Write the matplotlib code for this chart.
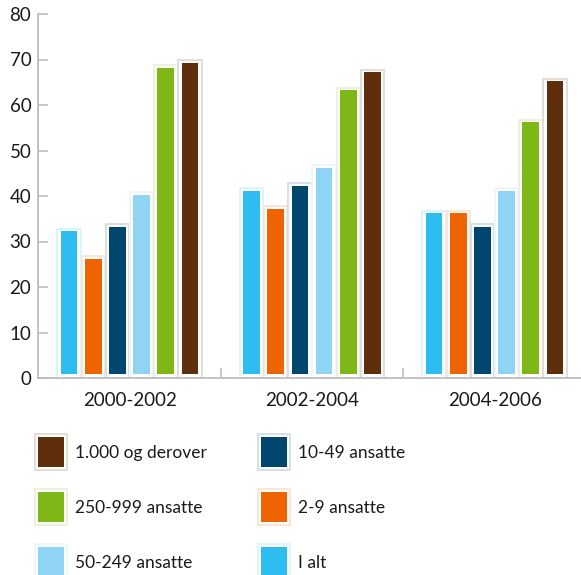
import numpy as np
import matplotlib.pyplot as plt
from matplotlib.patches import Rectangle
from matplotlib.colors import to_rgb

plt.rcParams['font.family'] = ['Lato', 'DejaVu Sans']

periods = ['2000-2002', '2002-2004', '2004-2006']
series = ['I alt', '2-9 ansatte', '10-49 ansatte', '50-249 ansatte',
          '250-999 ansatte', '1.000 og derover']
i_alt = [32, 41, 36]
ans_2_9 = [26, 37, 36]
ans_10_49 = [33, 42, 33]
ans_50_249 = [40, 46, 41]
ans_250_999 = [68, 63, 56]
ans_1000 = [69, 67, 65]
colors = ['#2ebdf0', '#ee6400', '#00466e', '#90d4f4', '#7fb716', '#5e2f0a']

values = [i_alt, ans_2_9, ans_10_49, ans_50_249, ans_250_999, ans_1000]


def tint(c, f=0.82):
    r, g, b = to_rgb(c)
    return (r + (1 - r) * f, g + (1 - g) * f, b + (1 - b) * f)


W, H = 581, 575
fig = plt.figure(figsize=(W / 100, H / 100), dpi=100)
ax = fig.add_axes([38.3 / W, 197 / H, 547.5 / W, 364 / H])

x = np.arange(len(periods))
pitch = 0.1326
outer_w = 0.128
inner_w = 0.0915
for i, (vals, c) in enumerate(zip(values, colors)):
    xs = x + (i - 2.5) * pitch
    # white frame with a pale outline, filled bar inside
    ax.bar(xs, np.array(vals) + 0.7, width=outer_w, bottom=0.1,
           color='white', edgecolor=tint(c), linewidth=1.3, zorder=2)
    ax.bar(xs, np.array(vals) - 0.7, width=inner_w, bottom=0.9,
           color=c, linewidth=0, zorder=3)

ax.set_xlim(-0.5, 2.5)
ax.set_ylim(0, 80)
ax.set_yticks(range(0, 81, 10))
ax.set_xticks(x)
ax.set_xticklabels(periods)
ax.set_xticks([0.5, 1.5], minor=True)
for s in ['top', 'right']:
    ax.spines[s].set_visible(False)
for s in ['left', 'bottom']:
    ax.spines[s].set_color('#bdbdbd')
    ax.spines[s].set_linewidth(1.3)
    ax.spines[s].set_zorder(4)
ax.tick_params(axis='y', direction='in', length=7, width=1.2, color='#bdbdbd',
               labelsize=13.5, labelcolor='#1a1a1a', pad=5)
ax.tick_params(axis='x', which='major', length=0, labelsize=13.5,
               labelcolor='#1a1a1a', pad=10)
ax.tick_params(axis='x', which='minor', direction='in', length=7, width=1.2,
               color='#bdbdbd')

# legend drawn in pixel coordinates
lg = fig.add_axes([0, 0, 1, 1])
lg.set_xlim(0, W)
lg.set_ylim(H, 0)
lg.axis('off')
order = [5, 2, 4, 1, 3, 0]
for k, idx in enumerate(order):
    col, row = k % 2, k // 2
    bx = 35 + col * 223.3
    by = 434 + row * 55
    lg.add_patch(Rectangle((bx, by), 31.7, 35.5, facecolor='white',
                           edgecolor=tint(colors[idx]), linewidth=1.3))
    lg.add_patch(Rectangle((bx + 2.8, by + 2.5), 26.3, 30.5,
                           facecolor=colors[idx], linewidth=0))
    lg.text(bx + 40, by + 19, series[idx], fontsize=12.5, color='#1a1a1a',
            va='center', ha='left')

fig.savefig('out.png', dpi=100)
